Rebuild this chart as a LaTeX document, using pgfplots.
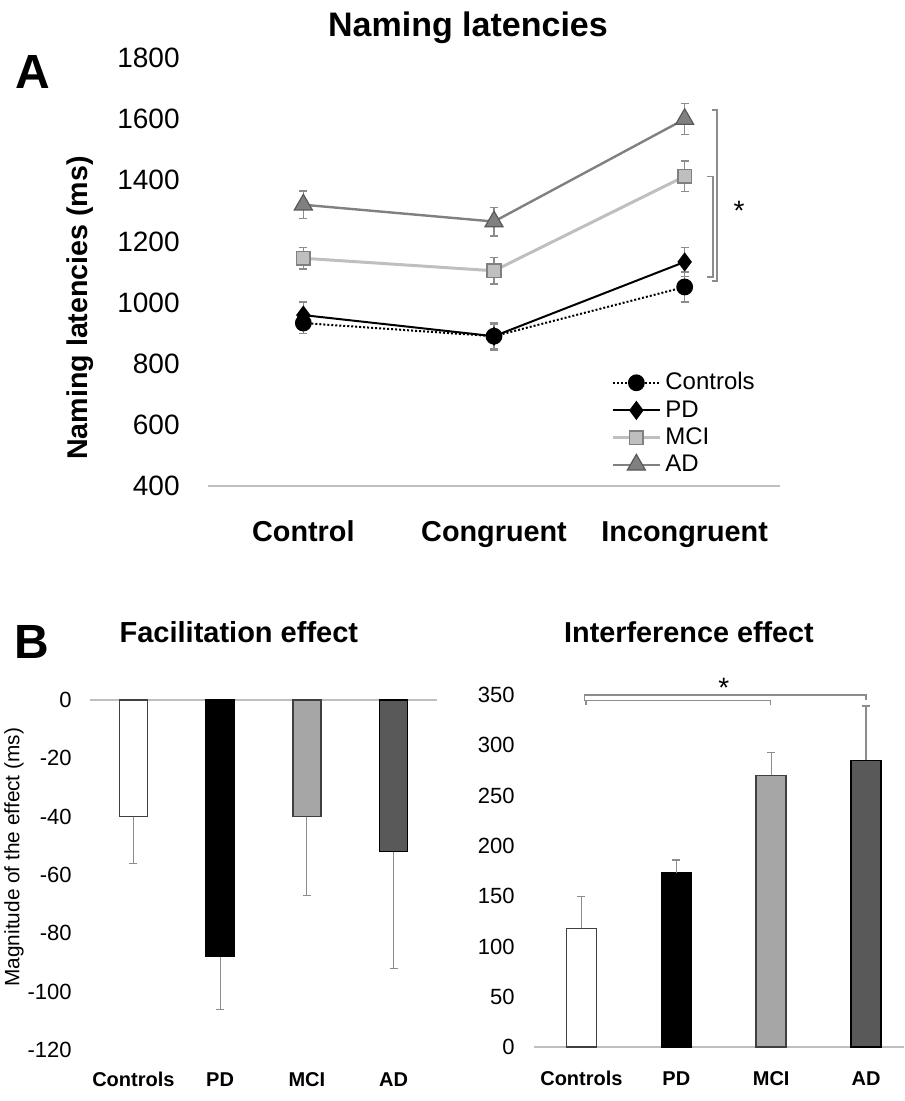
\documentclass[border=0pt]{standalone}
\usepackage{fontspec}
\setmainfont{Liberation Sans}
\usepackage{pgfplots}
\pgfplotsset{compat=1.18}
\definecolor{axgray}{HTML}{BFBFBF}
\definecolor{errgray}{HTML}{8C8C8C}
\definecolor{mcigray}{HTML}{BFBFBF}
\definecolor{adgray}{HTML}{808080}
\definecolor{barmci}{HTML}{A6A6A6}
\definecolor{barad}{HTML}{595959}
\definecolor{edge}{HTML}{404040}
\pgfplotsset{
  eb/.style={error bars/.cd, y dir=#1, y explicit, error mark=|,
    error bar style={solid, errgray, line width=0.6pt},
    error mark options={solid, errgray, line width=0.6pt, mark size=2pt}},
}
\begin{document}
\begin{tikzpicture}
\useasboundingbox (0,0) rectangle (452pt,-550.5pt);

% panel A: naming latencies
\begin{axis}[
  at={(104pt,-243pt)}, anchor=south west, scale only axis,
  width=286pt, height=214pt,
  xmin=-0.5, xmax=2.5, ymin=400, ymax=1800,
  xtick={0,1,2}, xticklabels={Control,Congruent,Incongruent},
  ytick={400,600,...,1800},
  axis lines*=left, y axis line style={draw=none},
  x axis line style={draw=axgray, line width=1pt},
  tick style={draw=none},
  /pgf/number format/assume math mode=true, /pgf/number format/1000 sep={},
  yticklabel style={font=\fontsize{14}{17}\selectfont, anchor=east, inner sep=0pt, xshift=-14pt},
  xticklabel style={font=\bfseries\fontsize{14.4}{17}\selectfont, anchor=base, inner sep=0pt, yshift=-27.5pt},
  title={Naming latencies},
  title style={font=\bfseries\fontsize{17}{20}\selectfont, at={(axis description cs:0.4545,1.043)}, anchor=center},
  ylabel={Naming latencies (ms)},
  ylabel style={font=\bfseries\fontsize{14.3}{17}\selectfont, at={(axis description cs:-0.2238,0.416)}, anchor=center},
  clip=false,
  legend style={at={(axis description cs:0.7045,0.2748)}, anchor=north west, draw=none, fill=none,
    inner sep=0pt, font=\fontsize{12}{14}\selectfont, row sep=0pt,
    nodes={inner xsep=2pt, inner ysep=1.9pt}},
  legend cell align=left,
  legend image code/.code={\draw[mark repeat=2, mark phase=2] plot coordinates {(0pt,0pt) (11.75pt,0pt) (23.5pt,0pt)};},
]
\addplot[black, densely dotted, line width=1pt, mark=*, mark size=3.7pt, mark options={solid, fill=black}, eb=both]
  coordinates {(0,933) +- (0,33) (1,890) +- (0,40) (2,1051) +- (0,49)};
\addplot[black, line width=1pt, mark=diamond*, mark size=4pt, mark options={fill=black}, eb=both]
  coordinates {(0,959) +- (0,43) (1,890) +- (0,45) (2,1133) +- (0,47)};
\addplot[mcigray, line width=1.5pt, mark=square*, mark size=3.4pt, mark options={fill=mcigray, draw=adgray, line width=0.8pt}, eb=both]
  coordinates {(0,1145) +- (0,35) (1,1104) +- (0,43) (2,1413) +- (0,50)};
\addplot[adgray, line width=1.2pt, mark=triangle*, mark size=5.2pt, mark options={fill=adgray, draw=barad, line width=0.6pt}, eb=both]
  coordinates {(0,1320) +- (0,45) (1,1265) +- (0,47) (2,1600) +- (0,50)};
\legend{Controls,PD,MCI,AD}
% significance brackets
\draw[errgray, line width=0.7pt] (axis cs:2.144,1630) -- (axis cs:2.170,1630) -- (axis cs:2.170,1071) -- (axis cs:2.144,1071);
\draw[errgray, line width=0.7pt] (axis cs:2.117,1413) -- (axis cs:2.149,1413) -- (axis cs:2.149,1084) -- (axis cs:2.117,1084);
\node[font=\fontsize{14}{16}\selectfont] at (axis cs:2.285,1300) {*};
\node[font=\bfseries\fontsize{24}{28}\selectfont] at (axis description cs:-0.306,0.967) {A};
\end{axis}

% panel B left: facilitation effect
\begin{axis}[
  at={(45pt,-525pt)}, anchor=south west, scale only axis,
  width=173.5pt, height=175pt,
  xmin=-0.5, xmax=3.5, ymin=-120, ymax=0,
  xtick={0,1,2,3}, xticklabels={Controls,PD,MCI,AD},
  ytick={-120,-100,...,0},
  axis line style={draw=none}, tick style={draw=none},
  ybar, bar width=14pt,
  /pgf/number format/assume math mode=true,
  yticklabel style={font=\fontsize{11}{13}\selectfont, anchor=east, inner sep=0pt, xshift=-9pt},
  xticklabel style={font=\bfseries\fontsize{10}{12}\selectfont, anchor=base, inner sep=0pt, yshift=-14pt},
  title={Facilitation effect},
  title style={font=\bfseries\fontsize{14.5}{17}\selectfont, at={(axis description cs:0.429,1.160)}, anchor=center},
  ylabel={Magnitude of the effect (ms)},
  ylabel style={font=\fontsize{10.4}{12}\selectfont, at={(axis description cs:-0.219,0.551)}, anchor=center},
  clip=false,
]
\draw[axgray, line width=0.75pt] (rel axis cs:0,1) -- (rel axis cs:1,1);
\addplot[bar shift=0pt, fill=white, draw=edge, line width=0.8pt, eb=minus] coordinates {(0,-40) +- (0,16)};
\addplot[bar shift=0pt, fill=black, draw=black, line width=0.8pt, eb=minus] coordinates {(1,-88) +- (0,18)};
\addplot[bar shift=0pt, fill=barmci, draw=edge, line width=0.8pt, eb=minus] coordinates {(2,-40) +- (0,27)};
\addplot[bar shift=0pt, fill=barad, draw=black, line width=0.8pt, eb=minus] coordinates {(3,-52) +- (0,40)};
\node[font=\bfseries\fontsize{24}{28}\selectfont] at (axis description cs:-0.167,1.166) {B};
\end{axis}

% panel B right: interference effect
\begin{axis}[
  at={(267pt,-523.5pt)}, anchor=south west, scale only axis,
  width=185pt, height=176pt,
  xmin=-0.5, xmax=3.4, ymin=0, ymax=350,
  xtick={0,1,2,3}, xticklabels={Controls,PD,MCI,AD},
  ytick={0,50,...,350},
  axis lines*=left, y axis line style={draw=none},
  x axis line style={draw=axgray, line width=0.75pt},
  tick style={draw=none},
  ybar, bar width=15pt,
  /pgf/number format/assume math mode=true,
  yticklabel style={font=\fontsize{11}{13}\selectfont, anchor=east, inner sep=0pt, xshift=-9.5pt},
  xticklabel style={font=\bfseries\fontsize{10}{12}\selectfont, anchor=base, inner sep=0pt, yshift=-15pt},
  title={Interference effect},
  title style={font=\bfseries\fontsize{14.4}{17}\selectfont, at={(axis description cs:0.419,1.145)}, anchor=center},
  clip=false,
]
\addplot[bar shift=0pt, fill=white, draw=edge, line width=0.8pt, eb=plus] coordinates {(0,118) +- (0,32)};
\addplot[bar shift=0pt, fill=black, draw=black, line width=0.8pt, eb=plus] coordinates {(1,173) +- (0,13)};
\addplot[bar shift=0pt, fill=barmci, draw=edge, line width=0.8pt, eb=plus] coordinates {(2,270) +- (0,23)};
\addplot[bar shift=0pt, fill=barad, draw=black, line width=0.8pt, eb=plus] coordinates {(3,285) +- (0,54)};
\draw[errgray, line width=0.7pt] (axis cs:0.03,344) -- (axis cs:0.03,350) -- (axis cs:3,350) -- (axis cs:3,345);
\draw[errgray, line width=0.7pt] (axis cs:0.05,340) -- (axis cs:0.05,344.5) -- (axis cs:1.99,344.5) -- (axis cs:1.99,340);
\node[font=\fontsize{14}{16}\selectfont] at (axis cs:1.5,357) {*};
\end{axis}
\end{tikzpicture}
\end{document}
